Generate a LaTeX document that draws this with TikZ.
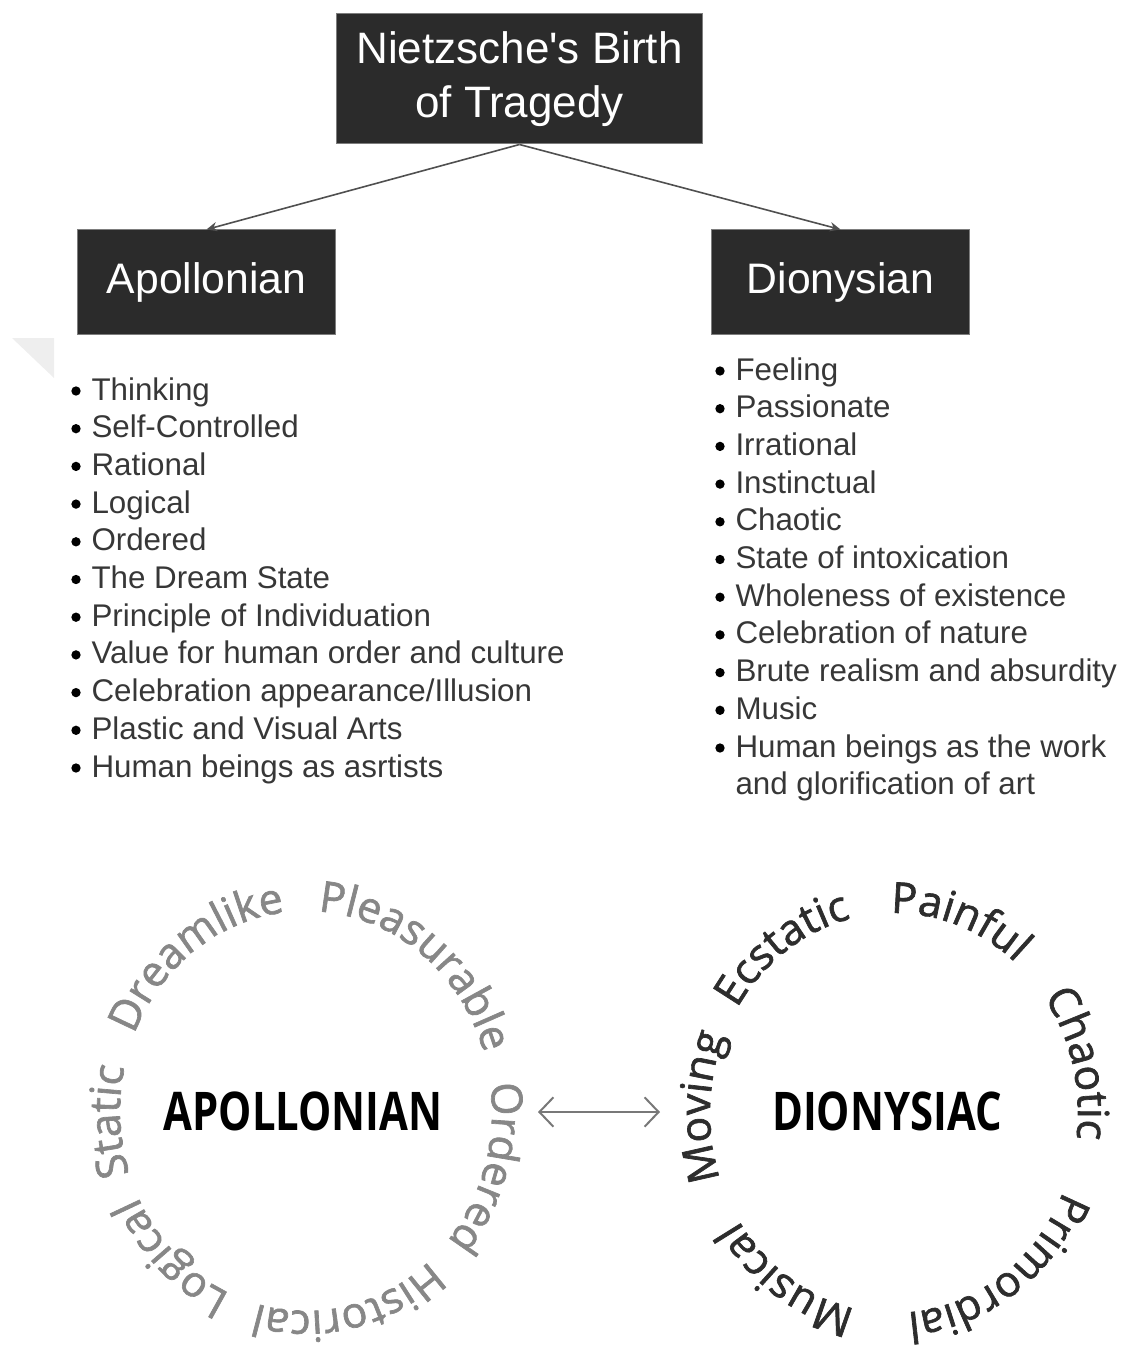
\documentclass[tikz,border=0pt]{standalone}
\usepackage{fontspec}
\setmainfont{Liberation Sans}
\newfontfamily\plainsans{Liberation Sans}
\newfontfamily\opensans{Open Sans}
\newfontfamily\ringfam{Open Sans}[FakeBold=1.6]
\usetikzlibrary{arrows.meta,decorations.text}

\definecolor{boxfill}{RGB}{43,43,43}
\definecolor{boxline}{RGB}{125,125,125}
\definecolor{listtext}{RGB}{55,55,55}
\definecolor{apoword}{RGB}{135,135,135}
\definecolor{dioword}{RGB}{45,45,45}
\definecolor{linkgray}{RGB}{80,80,80}
\definecolor{twogray}{RGB}{120,120,120}

\newcommand\ringfont{\ringfam\fontsize{32}{32}\selectfont}

\tikzset{every picture/.style={line width=0.75pt}}
\tikzset{
  titlebox/.style={draw=boxline, fill=boxfill, text=white, align=center, inner sep=0pt,
    minimum width=275pt, minimum height=97.5pt, font=\plainsans\fontsize{33}{41}\selectfont},
  headbox/.style={draw=boxline, fill=boxfill, text=white, inner sep=0pt,
    minimum width=194pt, minimum height=78pt, font=\fontsize{32}{38}\selectfont},
  item/.style={anchor=base west, inner sep=0pt, text=listtext, font=\fontsize{23.5}{28}\selectfont},
  dot/.style={circle, fill=black, inner sep=0pt, minimum size=7pt},
  link/.style={draw=linkgray, line width=1.2pt, -{Stealth[length=8pt,width=7pt]}},
  twoway/.style={draw=twogray, line width=1.5pt,
    {Straight Barb[length=10.5pt,width=22pt]}-{Straight Barb[length=10.5pt,width=22pt]}},
  ringname/.style={inner sep=0pt, text=black, font=\opensans\bfseries\fontsize{32}{32}\selectfont},
  ringword/.style 2 args={decorate, decoration={text along path, text color=#1, text={|\ringfont|#2}}}
}

\begin{document}
\begin{tikzpicture}[x=0.75pt,y=0.75pt,yscale=-1,xscale=1]
\useasboundingbox (0,0) rectangle (1136,1355);

%Shape: Triangle (faint fold mark)
\fill [color={rgb, 255:red, 238; green, 238; blue, 238 }] (12,338) -- (54,338) -- (54,378) -- cycle ;

% Title and the two heads
\node[titlebox] (title) at (519.5,79) {Nietzsche's Birth\\of Tragedy};
\node[headbox] (apo) at (206.5,282) {Apollonian};
\node[headbox] (dio) at (840.5,282) {Dionysian};

\draw[link] (title.south) -- (apo.north);
\draw[link] (title.south) -- (dio.north);

% Apollonian list
\foreach \t [count=\i] in {Thinking, Self-Controlled, Rational, Logical, Ordered,
  The Dream State, Principle of Individuation, Value for human order and culture,
  Celebration appearance/Illusion, Plastic and Visual Arts, Human beings as asrtists}
{
  \node[dot] (ad\i) at (76,{391+37.7*(\i-1)}) {};
  \node[item] (a\i) at (91,{400+37.7*(\i-1)}) {\t};
}

% Dionysian list
\foreach \t [count=\i] in {Feeling, Passionate, Irrational, Instinctual, Chaotic,
  State of intoxication, Wholeness of existence, Celebration of nature,
  Brute realism and absurdity, Music, Human beings as the work}
{
  \node[dot] (dd\i) at (720,{371+37.7*(\i-1)}) {};
  \node[item] (d\i) at (735,{380+37.7*(\i-1)}) {\t};
}
\node[item] (d12) at (735,{380+37.7*11}) {and glorification of art};

% Rings
\coordinate (apoRing) at (306,1111);
\coordinate (dioRing) at (894,1113);
\node[ringname] (apoC) at (303,1111) {\scalebox{0.98}[1.25]{APOLLONIAN}};
\node[ringname] (dioC) at (887,1111) {\scalebox{0.98}[1.25]{DIONYSIAC}};

\path[ringword={apoword}{Static}] (apoRing) ++(161.6:186 and 200) arc[start angle=161.6, delta angle=90, x radius=186, y radius=200];
\path[ringword={apoword}{Dreamlike}] (apoRing) ++(202.5:186 and 200) arc[start angle=202.5, delta angle=90, x radius=186, y radius=200];
\path[ringword={apoword}{Pleasurable}] (apoRing) ++(273.7:186 and 200) arc[start angle=273.7, delta angle=100, x radius=186, y radius=200];
\path[ringword={apoword}{Ordered}] (apoRing) ++(352:186 and 200) arc[start angle=352, delta angle=90, x radius=186, y radius=200];
\path[ringword={apoword}{Historical}] (apoRing) ++(48.4:186 and 200) arc[start angle=48.4, delta angle=90, x radius=186, y radius=200];
\path[ringword={apoword}{Logical}] (apoRing) ++(114:186 and 200) arc[start angle=114, delta angle=90, x radius=186, y radius=200];

\path[ringword={dioword}{Moving}] (dioRing) ++(160.7:184 and 200) arc[start angle=160.7, delta angle=90, x radius=184, y radius=200];
\path[ringword={dioword}{Ecstatic}] (dioRing) ++(211.5:184 and 200) arc[start angle=211.5, delta angle=90, x radius=184, y radius=200];
\path[ringword={dioword}{Painful}] (dioRing) ++(269:184 and 200) arc[start angle=269, delta angle=90, x radius=184, y radius=200];
\path[ringword={dioword}{Chaotic}] (dioRing) ++(324.5:184 and 200) arc[start angle=324.5, delta angle=90, x radius=184, y radius=200];
\path[ringword={dioword}{Primordial}] (dioRing) ++(23:184 and 200) arc[start angle=23, delta angle=100, x radius=184, y radius=200];
\path[ringword={dioword}{Musical}] (dioRing) ++(102:184 and 200) arc[start angle=102, delta angle=90, x radius=184, y radius=200];

\coordinate (apoR) at (538,1112);
\coordinate (dioL) at (660,1112);
\draw[twoway] (apoR) -- (dioL);

\end{tikzpicture}
\end{document}
